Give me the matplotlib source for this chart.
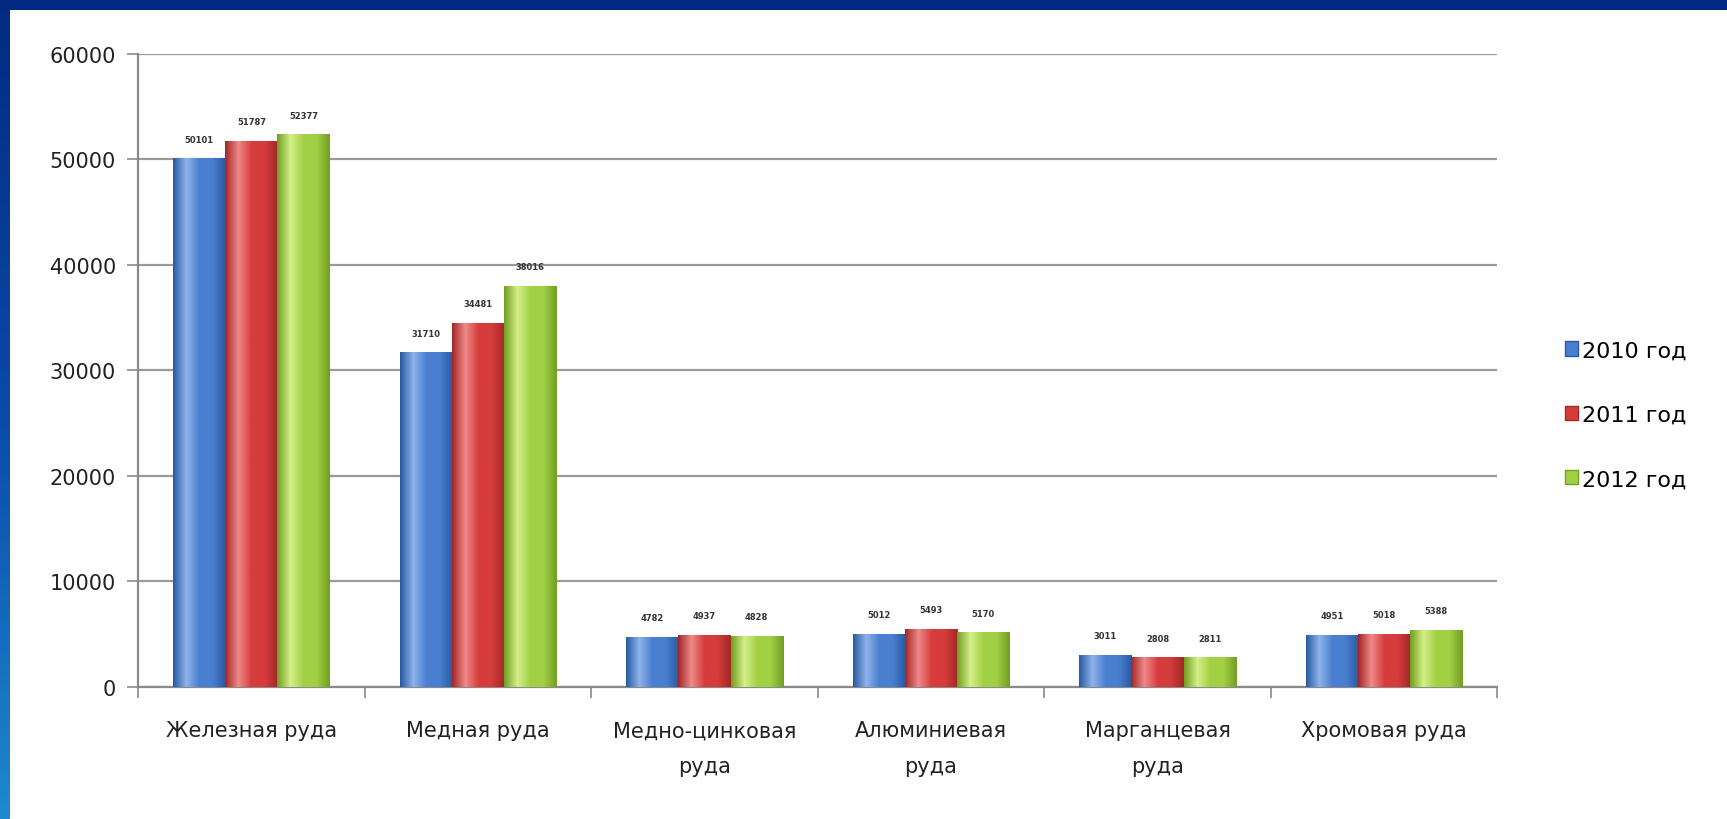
import numpy as np
import matplotlib
matplotlib.use("Agg")
from matplotlib import pyplot
from matplotlib.colors import LinearSegmentedColormap

categories = [
    "Железная руда",
    "Медная руда",
    "Медно-цинковая\nруда",
    "Алюминиевая\nруда",
    "Марганцевая\nруда",
    "Хромовая руда",
]
years = ["2010 год", "2011 год", "2012 год"]
values_2010 = [50101, 31710, 4782, 5012, 3011, 4951]
values_2011 = [51787, 34481, 4937, 5493, 2808, 5018]
values_2012 = [52377, 38016, 4828, 5170, 2811, 5388]
series = [values_2010, values_2011, values_2012]

# light, mid, dark shade of each series
shades = [
    ("#8fb4ea", "#4a7fd0", "#2a5aa4"),
    ("#f08a8a", "#d63c3c", "#a42828"),
    ("#d4f08a", "#a2d044", "#72a022"),
]

figure = pyplot.figure(figsize=(17.27, 8.20), dpi=100)
figure.patch.set_facecolor("white")

# navy frame on the top and a gradient stripe on the left
top = figure.add_axes([0, 0.986, 1, 0.014])
top.set_axis_off()
top.add_patch(pyplot.Rectangle((0, 0), 1, 1, color="#022a82"))
side = figure.add_axes([0, 0, 0.0055, 1])
side.set_axis_off()
side_cmap = LinearSegmentedColormap.from_list("side", ["#1e88d0", "#0a4aa8", "#022a82"])
side.imshow(np.linspace(0, 1, 256).reshape(-1, 1), aspect="auto", cmap=side_cmap, origin="lower")

ax = figure.add_axes([0.080, 0.161, 0.787, 0.772])
x = np.arange(len(categories))
width = 0.23

for k, vals in enumerate(series):
    light, mid, dark = shades[k]
    cmap = LinearSegmentedColormap.from_list(f"s{k}", [dark, light, mid, mid, dark], N=256)
    bars = ax.bar(x + (k - 1) * width, vals, width, color=mid, label=years[k], zorder=3)
    for bar, v in zip(bars, vals):
        x0, y0 = bar.get_x(), bar.get_y()
        grad = np.linspace(0, 1, 64).reshape(1, -1)
        img = ax.imshow(grad, cmap=cmap, aspect="auto", zorder=3.5,
                        extent=(x0, x0 + bar.get_width(), y0, y0 + bar.get_height()))
        img.set_clip_path(bar)
        ax.text(bar.get_x() + bar.get_width() / 2, v + 1400, f"{v}",
                ha="center", va="bottom", fontsize=6, color="#333333",
                fontweight="bold", zorder=5)

ax.set_xlim(-0.5, len(categories) - 0.5)
ax.set_ylim(0, 60000)
ax.set_yticks(range(0, 60001, 10000))
ax.set_yticklabels([str(t) for t in range(0, 60001, 10000)])
ax.yaxis.grid(True, color="#9a9a9a", linewidth=1.6, zorder=0)
ax.set_axisbelow(True)

ax.set_xticks(x)
ax.set_xticklabels(categories, fontsize=15, color="#222222", linespacing=2.0)
ax.tick_params(axis="x", length=0, pad=24)
ax.set_xticks(np.arange(-0.5, len(categories), 1), minor=True)
ax.tick_params(axis="x", which="minor", length=8, width=1.2, color="#8a8a8a")
ax.tick_params(axis="y", labelsize=15, labelcolor="#222222", length=8, width=1.2,
               color="#8a8a8a", pad=8)

for side_name in ["top", "right"]:
    ax.spines[side_name].set_visible(False)
for side_name in ["left", "bottom"]:
    ax.spines[side_name].set_color("#8a8a8a")
    ax.spines[side_name].set_linewidth(1.6)

leg = ax.legend(loc="center left", bbox_to_anchor=(1.035, 0.43), frameon=False,
                fontsize=16, handlelength=0.6, handleheight=0.6, handletextpad=0.15,
                labelspacing=2.0)
for handle, (light, mid, dark) in zip(leg.legend_handles, shades):
    handle.set_facecolor(mid)
    handle.set_edgecolor(dark)

pyplot.savefig("out.png", dpi=100)
